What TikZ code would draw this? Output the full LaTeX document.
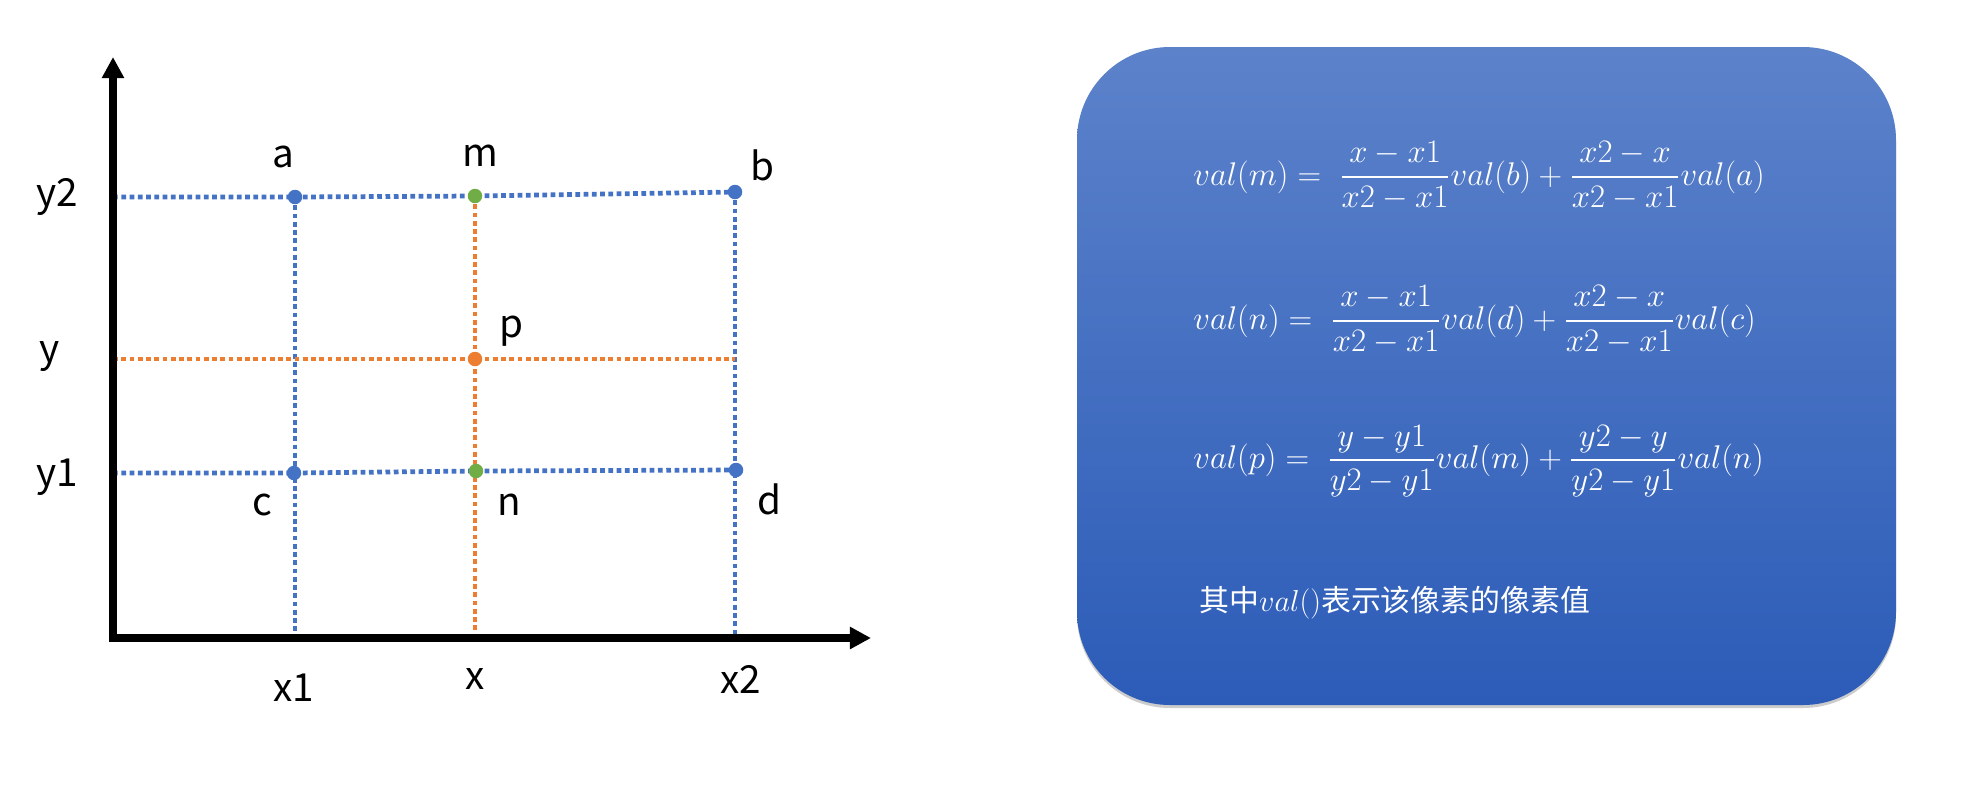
\documentclass[tikz,border=0pt]{standalone}
\usepackage{amsmath}
\usepackage{fontspec}
\newfontfamily\cjk{Noto Sans CJK SC}
\usetikzlibrary{arrows.meta, shadows}

\definecolor{bluept}{RGB}{68,114,196}
\definecolor{orangept}{RGB}{237,125,49}
\definecolor{greenpt}{RGB}{112,173,71}
\definecolor{boxtop}{RGB}{92,130,202}
\definecolor{boxbot}{RGB}{44,92,184}

\begin{document}
\begin{tikzpicture}[x=0.02cm, y=-0.02cm,
    gridline/.style={line width=2.7pt, dash pattern=on 2.7pt off 2.0pt},
    axis/.style={line width=4pt, {Triangle[length=12pt, width=12pt]}-{Triangle[length=12pt, width=12pt]}},
    pt/.style={circle, fill=#1, inner sep=0pt, minimum size=0.29cm},
    lbl/.style={font=\cjk\fontsize{22}{24}\selectfont, inner sep=0pt},
    formula/.style={anchor=west, text=white, inner sep=0pt, scale=1.08, transform shape, font=\fontsize{17.28}{21}\selectfont}]
            \useasboundingbox (0,0) rectangle (1969,806);

            % Axis corners
            \coordinate (o) at (113,638);
            \coordinate (xend) at (871,638);
            \coordinate (yend) at (113,57);

            % Grid points
            \coordinate (a) at (295,197);
            \coordinate (m) at (475,196);
            \coordinate (b) at (735,192);
            \coordinate (p) at (475,359);
            \coordinate (c) at (294,473);
            \coordinate (n) at (476,471);
            \coordinate (d) at (736,470);

            % Blue dotted lines
            \draw[gridline, bluept] (o |- a) -- (a) -- (m) -- (b);
            \draw[gridline, bluept] (o |- c) -- (c) -- (n) -- (d);
            \draw[gridline, bluept] (a) -- (a |- o);
            \draw[gridline, bluept] (b) -- (b |- o);

            % Orange dotted lines
            \draw[gridline, orangept] (m) -- (m |- o);
            \draw[gridline, orangept] (o |- p) -- (p) -- (p -| b);

            % Draw the axes
            \draw[axis] (yend) -- (o) -- (xend);

            % Points
            \node[pt=bluept] (pa) at (a) {};
            \node[pt=greenpt] (pm) at (m) {};
            \node[pt=bluept] (pb) at (b) {};
            \node[pt=orangept] (pp) at (p) {};
            \node[pt=bluept] (pc) at (c) {};
            \node[pt=greenpt] (pn) at (n) {};
            \node[pt=bluept] (pd) at (d) {};

            % Point labels
            \node[lbl] (la) at (283,157) {a};
            \node[lbl] (lm) at (480,156) {m};
            \node[lbl] (lb) at (762,165) {b};
            \node[lbl] (lp) at (511,331) {p};
            \node[lbl] (lc) at (262,505) {c};
            \node[lbl] (ln) at (509,505) {n};
            \node[lbl] (ld) at (769,499) {d};

            % Axis labels
            \node[lbl] (ly2) at (57,197) {y2};
            \node[lbl] (ly) at (50,357) {y};
            \node[lbl] (ly1) at (57,477) {y1};
            \node[lbl] (lx1) at (294,688) {x1};
            \node[lbl] (lx) at (475,679) {x};
            \node[lbl] (lx2) at (741,679) {x2};

            % Formula box
            \path[rounded corners=1.86cm, top color=boxtop, bottom color=boxbot,
                  drop shadow={shadow xshift=0pt, shadow yshift=-0.06cm, opacity=0.2, fill=black}]
                  (1077,47) rectangle (1896,705);
            \node[formula] (eqm) at (1193,176) {$\displaystyle val(m) =\; \frac{x-x1}{x2-x1}val(b) + \frac{x2-x}{x2-x1}val(a)$};
            \node[formula] (eqn) at (1193,320) {$\displaystyle val(n) =\; \frac{x-x1}{x2-x1}val(d) + \frac{x2-x}{x2-x1}val(c)$};
            \node[formula] (eqp) at (1193,461) {$\displaystyle val(p) =\; \frac{y-y1}{y2-y1}val(m) + \frac{y2-y}{y2-y1}val(n)$};
            \node[formula, scale=0.926, font=\cjk\fontsize{17}{20}\selectfont] (note) at (1199,603) {其中$val()$表示该像素的像素值};
\end{tikzpicture}
\end{document}
